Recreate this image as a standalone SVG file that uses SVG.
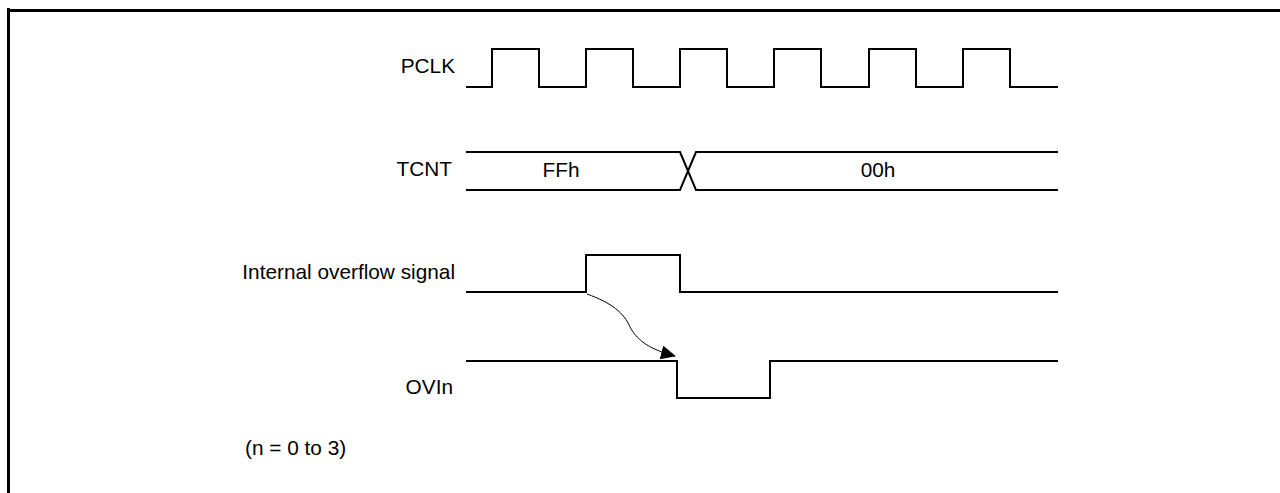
<svg xmlns="http://www.w3.org/2000/svg" width="1280" height="493" viewBox="0 0 1280 493">
<style>
.lbl{font-family:"Liberation Sans",Arial,sans-serif;font-size:20.8px;fill:#000}
.r{text-anchor:end}
.m{text-anchor:middle}
.w{fill:none;stroke:#000;stroke-width:2}
.b{fill:none;stroke:#000;stroke-width:3}
</style>
<defs>
<marker id="ah" markerWidth="16" markerHeight="14" refX="14" refY="7" orient="auto" markerUnits="userSpaceOnUse">
<path d="M0,0 L15,7 L0,14 Z" fill="#000"/>
</marker>
</defs>
<rect width="1280" height="493" fill="#fff"/>
<g id="frame">
<path class="b" d="M8.5,8 V493 M7,10.5 H1280"/>
</g>
<g id="pclk">
<text class="lbl r" x="455" y="73">PCLK</text>
<path class="w" d="M466,87 H492 V49 H539 V87 H586 V49 H633 V87 H680 V49 H727 V87 H774 V49 H821 V87 H869 V49 H916 V87 H963 V49 H1010 V87 H1058"/>
</g>
<g id="tcnt">
<text class="lbl r" x="452" y="176">TCNT</text>
<path class="w" d="M466,152 H680 L696,190 H1058 M466,190 H680 L696,152 H1058"/>
<text class="lbl m" x="561" y="177">FFh</text>
<text class="lbl m" x="878" y="177">00h</text>
</g>
<g id="ovf">
<text class="lbl r" x="455" y="279">Internal overflow signal</text>
<path class="w" d="M466,292 H586 V255 H680 V292 H1058"/>
</g>
<g id="ovin">
<text class="lbl r" x="453" y="394">OVIn</text>
<path class="w" d="M466,361 H677 V398 H770 V361 H1058"/>
</g>
<g id="connectors">
<path d="M587,294 C612,303 624,313 630,327 C638,342 652,350 675,356" fill="none" stroke="#000" stroke-width="1" marker-end="url(#ah)"/>
</g>
<g id="note">
<text class="lbl" x="245" y="455">(n = 0 to 3)</text>
</g>
</svg>
